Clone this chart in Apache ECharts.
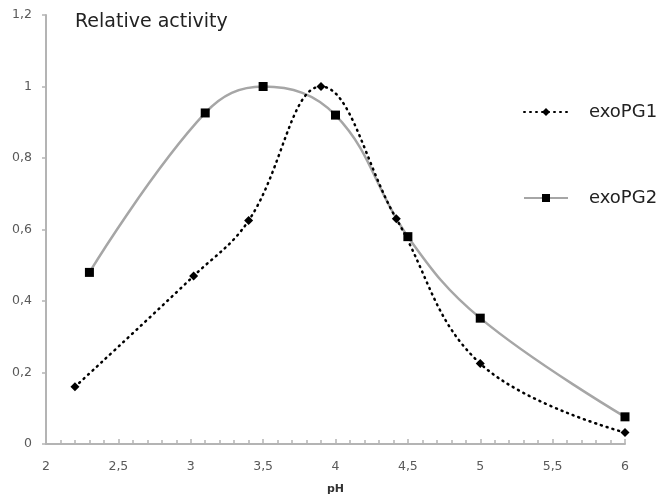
<!DOCTYPE html>
<html>
<head>
<meta charset="utf-8">
<script src="https://cdn.jsdelivr.net/npm/echarts@6/dist/echarts.min.js"></script>
<style>
    html, body { margin: 0; padding: 0; background: #fff; }
    #chart { width: 661px; height: 500px; }
</style>
</head>
<body>
<div id="chart"></div>
<script>
// exoPG1 - pH / relative activity
var exoPG1_ph = [2.2, 3.02, 3.4, 3.9, 4.42, 5.0, 6.0];
var exoPG1_act = [0.16, 0.47, 0.625, 1.0, 0.63, 0.225, 0.032];
// exoPG2
var exoPG2_ph = [2.3, 3.1, 3.5, 4.0, 4.5, 5.0, 6.0];
var exoPG2_act = [0.48, 0.926, 1.0, 0.92, 0.58, 0.352, 0.076];

var seriesNames = ['exoPG1', 'exoPG2'];

function pairs(xs, ys) {
    return xs.map(function (x, i) { return [x, ys[i]]; });
}
// comma decimal like the original
function comma(v) {
    return String(v).replace('.', ',');
}

var myChart = echarts.init(document.getElementById('chart'));

var axisGray = '#b4b4b4';
var labelStyle = { color: '#595959', fontSize: 12.5, fontFamily: 'DejaVu Sans' };

var option = {
    animation: false,
    title: {
        text: 'Relative activity',
        left: 70,
        top: 8,
        textStyle: { color: '#222', fontSize: 19, fontWeight: 'normal', fontFamily: 'DejaVu Sans' }
    },
    legend: {
        orient: 'vertical',
        left: 518,
        top: 98,
        itemGap: 68,
        itemWidth: 44,
        itemHeight: 10,
        textStyle: { color: '#222', fontSize: 18, fontFamily: 'DejaVu Sans', padding: [0, 0, 0, 16] },
        data: seriesNames
    },
    grid: { left: 46, right: 36, top: 15, bottom: 55 },
    xAxis: {
        type: 'value',
        min: 2,
        max: 6,
        interval: 0.5,
        name: 'pH',
        nameLocation: 'middle',
        nameGap: 40,
        nameTextStyle: { color: '#333', fontSize: 11, fontWeight: 'bold', fontFamily: 'DejaVu Sans' },
        axisLine: { lineStyle: { color: axisGray, width: 2 } },
        axisTick: { show: true, inside: true, length: 5, lineStyle: { color: axisGray, width: 1.5 } },
        minorTick: { show: true, splitNumber: 5, length: 4, lineStyle: { color: axisGray, width: 1.5 } },
        splitLine: { show: false },
        axisLabel: Object.assign({ margin: 16, formatter: comma }, labelStyle)
    },
    yAxis: {
        type: 'value',
        min: 0,
        max: 1.2,
        interval: 0.2,
        axisLine: { show: true, lineStyle: { color: axisGray, width: 2 } },
        axisTick: { show: true, length: 4, lineStyle: { color: axisGray, width: 1.5 } },
        splitLine: { show: false },
        axisLabel: Object.assign({ margin: 14, formatter: comma }, labelStyle)
    },
    series: [
        {
            name: seriesNames[0],
            type: 'line',
            smooth: 0.4,
            symbol: 'diamond',
            symbolSize: 9,
            itemStyle: { color: '#000' },
            lineStyle: { color: '#000', width: 2.5, type: [1, 5], cap: 'round' },
            data: pairs(exoPG1_ph, exoPG1_act),
            z: 3
        },
        {
            name: seriesNames[1],
            type: 'line',
            smooth: 0.4,
            symbol: 'rect',
            symbolSize: 9,
            itemStyle: { color: '#000' },
            lineStyle: { color: '#a6a6a6', width: 2.5 },
            data: pairs(exoPG2_ph, exoPG2_act),
            z: 2
        }
    ]
};

myChart.setOption(option);
</script>
</body>
</html>
